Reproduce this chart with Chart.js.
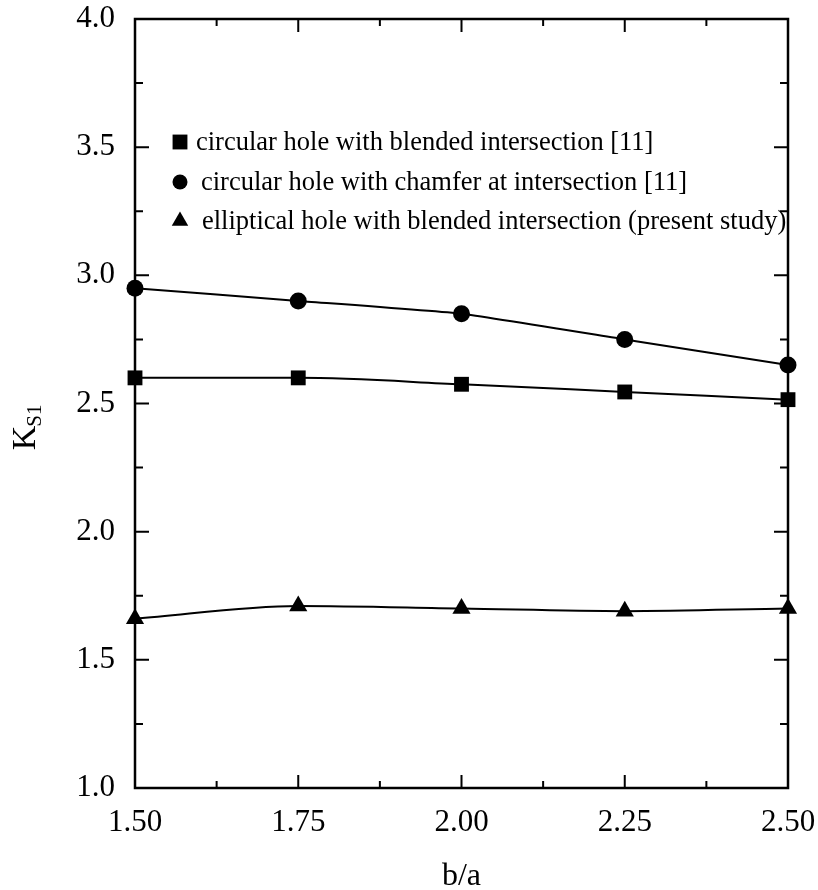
<!DOCTYPE html>
<html>
<head>
<meta charset="utf-8">
<script src="https://cdn.jsdelivr.net/npm/chart.js@4/dist/chart.umd.min.js"></script>
<style>
  html, body { margin: 0; padding: 0; background: #fff; }
  #wrap { width: 818px; height: 890px; }
</style>
</head>
<body>
<div id="wrap"><canvas id="c" width="818" height="890"></canvas></div>
<script>
// b/a ratios sampled
const ratios = [1.50, 1.75, 2.00, 2.25, 2.50];

// stress concentration factor K_S1 for each configuration
const circularBlended = [2.60, 2.60, 2.575, 2.545, 2.515];
const circularChamfer = [2.95, 2.90, 2.85, 2.75, 2.65];
const ellipticalBlended = [1.66, 1.71, 1.70, 1.69, 1.70];

const seriesNames = [
  'circular hole with blended intersection [11]',
  'circular hole with chamfer at intersection [11]',
  'elliptical hole with blended intersection (present study)'
];

const xTickLabels = ['1.50', '1.75', '2.00', '2.25', '2.50'];
const yTickLabels = ['1.0', '1.5', '2.0', '2.5', '3.0', '3.5', '4.0'];

const xTitle = 'b/a';
const yTitleMain = 'K';
const yTitleSub = 'S1';

const SERIF = '"Liberation Serif", "DejaVu Serif", serif';

function pts(ys) { return ratios.map((x, i) => ({ x: x, y: ys[i] })); }

const common = {
  borderColor: '#000',
  backgroundColor: '#000',
  pointBackgroundColor: '#000',
  pointBorderColor: '#000',
  borderWidth: 2,
  pointBorderWidth: 0,
  clip: false
};

// frame, inward tick marks on all four sides, axis titles and the in-plot key
const decorations = {
  id: 'decorations',
  beforeDatasetsDraw(chart) {
    const { ctx, chartArea: a, scales } = chart;
    const xs = scales.x, ys = scales.y;
    ctx.save();
    ctx.strokeStyle = '#000';
    ctx.lineWidth = 2.5;
    ctx.strokeRect(a.left, a.top, a.right - a.left, a.bottom - a.top);
    ctx.lineWidth = 2;
    ctx.beginPath();
    for (let v = xs.min, k = 0; v <= xs.max + 1e-9; v += 0.125, k++) {
      const px = xs.getPixelForValue(v);
      const len = k % 2 === 0 ? 13 : 7;
      ctx.moveTo(px, a.bottom); ctx.lineTo(px, a.bottom - len);
      ctx.moveTo(px, a.top); ctx.lineTo(px, a.top + len);
    }
    for (let v = ys.min, k = 0; v <= ys.max + 1e-9; v += 0.25, k++) {
      const py = ys.getPixelForValue(v);
      const len = k % 2 === 0 ? 14 : 8;
      ctx.moveTo(a.left, py); ctx.lineTo(a.left + len, py);
      ctx.moveTo(a.right, py); ctx.lineTo(a.right - len, py);
    }
    ctx.stroke();
    ctx.restore();
  },
  afterDraw(chart) {
    const { ctx, chartArea: a } = chart;
    ctx.save();
    ctx.fillStyle = '#000';

    // x title
    ctx.font = '32px ' + SERIF;
    ctx.textAlign = 'center';
    ctx.textBaseline = 'middle';
    ctx.fillText(xTitle, (a.left + a.right) / 2, 877);

    // y title, rotated, with subscript
    ctx.translate(35, 432);
    ctx.rotate(-Math.PI / 2);
    ctx.textBaseline = 'alphabetic';
    ctx.textAlign = 'left';
    ctx.font = '34px ' + SERIF;
    const kw = ctx.measureText(yTitleMain).width;
    ctx.fillText(yTitleMain, -kw / 2 - 6, 0);
    ctx.font = '21px ' + SERIF;
    ctx.fillText(yTitleSub, kw / 2 - 7, 6);
    ctx.setTransform(1, 0, 0, 1, 0, 0);

    // key
    const rowsY = [142, 182, 221];
    const textX = [196, 201, 202];
    ctx.font = '26.5px ' + SERIF;
    ctx.textAlign = 'left';
    ctx.textBaseline = 'middle';
    chart.data.datasets.forEach((ds, i) => {
      Chart.helpers.drawPoint(ctx, {
        pointStyle: ds.pointStyle,
        radius: ds.keyRadius,
        rotation: 0,
        borderWidth: 0
      }, 180, rowsY[i]);
      ctx.fillStyle = '#000';
      ctx.fillText(ds.label, textX[i], rowsY[i] + 1);
    });
    ctx.restore();
  }
};

new Chart(document.getElementById('c'), {
  type: 'line',
  data: {
    datasets: [
      Object.assign({}, common, {
        label: seriesNames[0], data: pts(circularBlended),
        cubicInterpolationMode: 'monotone',
        pointStyle: 'rect', pointRadius: 10.5, pointHoverRadius: 10.5, keyRadius: 10.5
      }),
      Object.assign({}, common, {
        label: seriesNames[1], data: pts(circularChamfer),
        tension: 0.12,
        pointStyle: 'circle', pointRadius: 8.5, pointHoverRadius: 8.5, keyRadius: 7.5
      }),
      Object.assign({}, common, {
        label: seriesNames[2], data: pts(ellipticalBlended),
        cubicInterpolationMode: 'monotone',
        pointStyle: 'triangle', pointRadius: 10.5, pointHoverRadius: 10.5, keyRadius: 9.5
      })
    ]
  },
  options: {
    responsive: false,
    animation: false,
    events: [],
    layout: { padding: { top: 19, right: 30, left: 0, bottom: 0 } },
    plugins: {
      legend: { display: false },
      tooltip: { enabled: false }
    },
    scales: {
      x: {
        type: 'linear',
        min: 1.5, max: 2.5,
        grid: { display: false },
        border: { display: false },
        afterBuildTicks(scale) {
          scale.ticks = xTickLabels.map(t => ({ value: parseFloat(t) }));
        },
        afterFit(scale) {
          scale.height = 102;
          scale.paddingLeft = 0; scale.paddingRight = 0;
        },
        ticks: {
          autoSkip: false, maxRotation: 0, padding: 8,
          color: '#000',
          font: { family: SERIF, size: 31 },
          callback: (v, i) => xTickLabels[i]
        }
      },
      y: {
        type: 'linear',
        min: 1.0, max: 4.0,
        grid: { display: false },
        border: { display: false },
        afterBuildTicks(scale) {
          scale.ticks = yTickLabels.map(t => ({ value: parseFloat(t) }));
        },
        afterFit(scale) {
          scale.width = 135;
          scale.paddingTop = 0; scale.paddingBottom = 0;
        },
        ticks: {
          autoSkip: false, padding: 12,
          color: '#000',
          font: { family: SERIF, size: 31 },
          callback: (v, i) => yTickLabels[i]
        }
      }
    }
  },
  plugins: [decorations]
});
</script>
</body>
</html>
